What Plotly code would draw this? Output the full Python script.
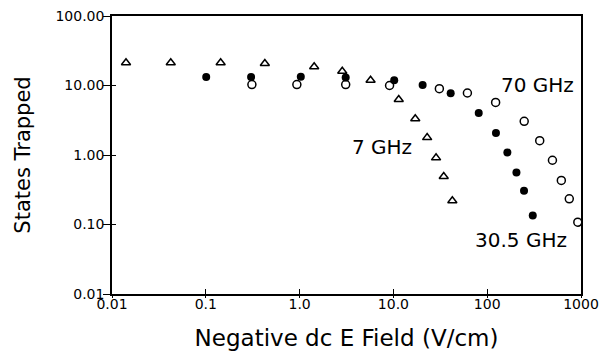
import math
import plotly.graph_objects as go

# 7 GHz (open triangles)
x_7 = [0.0141, 0.0423, 0.144, 0.426, 1.43, 2.85, 5.71, 11.4, 17.1, 22.9, 28.5, 34.4, 42.5]
y_7 = [21.2, 21.2, 21.2, 20.7, 18.6, 16.0, 11.9, 6.3, 3.33, 1.78, 0.91, 0.49, 0.22]

# 30.5 GHz (filled circles)
x_30 = [0.101, 0.304, 1.03, 3.10, 10.2, 20.5, 40.8, 81.2, 124, 164, 205, 247, 306]
y_30 = [13.3, 13.3, 13.4, 13.0, 11.9, 10.2, 7.73, 4.03, 2.07, 1.09, 0.56, 0.306, 0.135]

# 70 GHz (open circles)
x_70 = [0.31, 0.935, 3.1, 9.1, 30.9, 61.5, 123, 248, 363, 496, 617, 750, 925]
y_70 = [10.3, 10.3, 10.3, 10.0, 9.0, 7.8, 5.7, 3.05, 1.61, 0.84, 0.43, 0.234, 0.108]

x_tickvals = [0.01, 0.1, 1, 10, 100, 1000]
x_ticktext = ["0.01", "0.1", "1.0", "10.0", "100", "1000"]
y_tickvals = [0.01, 0.1, 1, 10, 100]
y_ticktext = ["0.01", "0.10", "1.00", "10.00", "100.00"]

labels = ["70 GHz", "7 GHz", "30.5 GHz"]
label_x = [344, 7.6, 232]
label_y = [10.2, 1.31, 0.060]

FONT = "DejaVu Sans"

fig = go.Figure()
fig.add_trace(go.Scatter(x=x_7, y=y_7, mode="markers", name="7 GHz",
                         marker=dict(symbol="triangle-up-open", size=8, color="black",
                                     line=dict(width=1.5, color="black"))))
fig.add_trace(go.Scatter(x=x_30, y=y_30, mode="markers", name="30.5 GHz",
                         marker=dict(symbol="circle", size=8, color="black")))
fig.add_trace(go.Scatter(x=x_70, y=y_70, mode="markers", name="70 GHz",
                         marker=dict(symbol="circle-open", size=8, color="black",
                                     line=dict(width=1.5, color="black"))))
# invisible traces for overlay axes (crossing ticks: inside + outside)
for xa, ya in (("x2", "y2"), ("x3", "y3")):
    fig.add_trace(go.Scatter(x=[x_tickvals[0]], y=[y_tickvals[0]], xaxis=xa, yaxis=ya,
                             mode="markers", marker=dict(opacity=0), hoverinfo="skip"))

for t, lx, ly in zip(labels, label_x, label_y):
    fig.add_annotation(x=math.log10(lx), y=math.log10(ly), text=t, showarrow=False,
                       font=dict(family=FONT, size=20, color="black"))

axis_common = dict(type="log", showgrid=False, zeroline=False, showline=True,
                   linecolor="black", linewidth=1.5, ticks="", automargin=False,
                   tickfont=dict(family=FONT, size=14, color="black"))


def tick_axis(kind, direction, over, vals, length):
    return dict(type="log", range=[-2, 3] if kind == "x" else [-2, 2], overlaying=over,
                tickvals=vals, showticklabels=False, ticks=direction, ticklen=length,
                tickwidth=1.2, tickcolor="black", showgrid=False, zeroline=False,
                showline=False, automargin=False)


fig.update_layout(
    width=603, height=351,
    margin=dict(l=112, r=22, t=16, b=57),
    paper_bgcolor="white", plot_bgcolor="white",
    showlegend=False,
    xaxis=dict(**axis_common, range=[-2, 3], tickvals=x_tickvals, ticktext=x_ticktext,
               mirror=True, ticklabelstandoff=-4,
               title=dict(text="Negative dc E Field (V/cm)", standoff=20,
                          font=dict(family=FONT, size=23, color="black"))),
    yaxis=dict(**axis_common, range=[-2, 2], tickvals=y_tickvals, ticktext=y_ticktext,
               mirror=True, ticklabelstandoff=3,
               title=dict(text="States Trapped", standoff=19,
                          font=dict(family=FONT, size=21, color="black"))),
    xaxis2=tick_axis("x", "inside", "x", x_tickvals, 5),
    yaxis2=tick_axis("y", "inside", "y", y_tickvals, 4),
    xaxis3=tick_axis("x", "outside", "x", x_tickvals, 3),
    yaxis3=tick_axis("y", "outside", "y", y_tickvals, 8),
)

fig.write_html("out.html")
